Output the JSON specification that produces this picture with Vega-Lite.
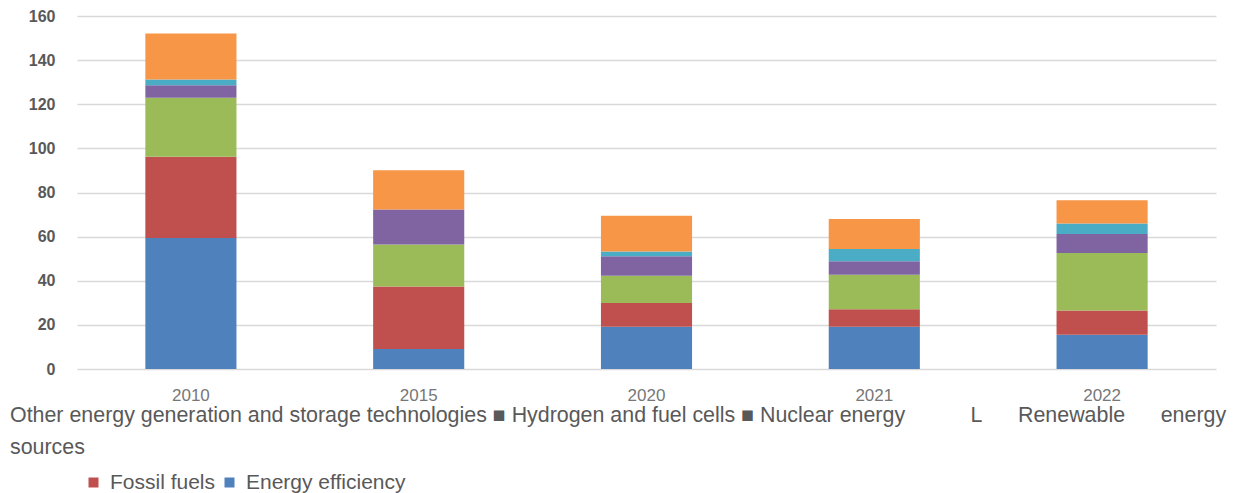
{
  "$schema": "https://vega.github.io/schema/vega-lite/v6.json",
  "autosize": {"type": "none"},
  "padding": {"left": 77, "top": 16, "right": 21, "bottom": 124},
  "width": 1139,
  "height": 353,
  "background": "white",
  "title": {
    "text": [
      "Other energy generation and storage technologies ■ Hydrogen and fuel cells ■ Nuclear energy\u00a0\u00a0\u00a0\u00a0\u00a0\u00a0\u00a0\u00a0\u00a0\u00a0\u00a0L\u00a0\u00a0\u00a0\u00a0\u00a0\u00a0Renewable\u00a0\u00a0\u00a0\u00a0\u00a0\u00a0energy",
      "sources"
    ],
    "orient": "bottom",
    "anchor": "start",
    "frame": "group",
    "align": "left",
    "dx": -67,
    "offset": -88,
    "font": "Liberation Sans",
    "fontSize": 21.4,
    "fontWeight": "normal",
    "color": "#595959",
    "lineHeight": 32
  },
  "data": {
    "values": [
      {"year": "2010", "source": "Energy efficiency", "value": 59.4},
      {"year": "2010", "source": "Fossil fuels", "value": 36.8},
      {"year": "2010", "source": "Renewable energy sources", "value": 26.8},
      {"year": "2010", "source": "Nuclear energy", "value": 5.6},
      {"year": "2010", "source": "Hydrogen and fuel cells", "value": 2.6},
      {"year": "2010", "source": "Other energy generation and storage technologies", "value": 20.9},
      {"year": "2015", "source": "Energy efficiency", "value": 9.1},
      {"year": "2015", "source": "Fossil fuels", "value": 28.3},
      {"year": "2015", "source": "Renewable energy sources", "value": 19.0},
      {"year": "2015", "source": "Nuclear energy", "value": 15.9},
      {"year": "2015", "source": "Hydrogen and fuel cells", "value": 0},
      {"year": "2015", "source": "Other energy generation and storage technologies", "value": 17.8},
      {"year": "2020", "source": "Energy efficiency", "value": 19.2},
      {"year": "2020", "source": "Fossil fuels", "value": 10.7},
      {"year": "2020", "source": "Renewable energy sources", "value": 12.4},
      {"year": "2020", "source": "Nuclear energy", "value": 8.8},
      {"year": "2020", "source": "Hydrogen and fuel cells", "value": 2.2},
      {"year": "2020", "source": "Other energy generation and storage technologies", "value": 16.2},
      {"year": "2021", "source": "Energy efficiency", "value": 19.2},
      {"year": "2021", "source": "Fossil fuels", "value": 7.9},
      {"year": "2021", "source": "Renewable energy sources", "value": 15.6},
      {"year": "2021", "source": "Nuclear energy", "value": 6.1},
      {"year": "2021", "source": "Hydrogen and fuel cells", "value": 5.6},
      {"year": "2021", "source": "Other energy generation and storage technologies", "value": 13.6},
      {"year": "2022", "source": "Energy efficiency", "value": 15.5},
      {"year": "2022", "source": "Fossil fuels", "value": 11.0},
      {"year": "2022", "source": "Renewable energy sources", "value": 26.1},
      {"year": "2022", "source": "Nuclear energy", "value": 8.6},
      {"year": "2022", "source": "Hydrogen and fuel cells", "value": 4.7},
      {"year": "2022", "source": "Other energy generation and storage technologies", "value": 10.6}
    ]
  },
  "transform": [
    {"calculate": "indexof(['Energy efficiency', 'Fossil fuels', 'Renewable energy sources', 'Nuclear energy', 'Hydrogen and fuel cells', 'Other energy generation and storage technologies'], datum.source)", "as": "stackOrder"}
  ],
  "mark": {"type": "bar"},
  "encoding": {
    "x": {
      "field": "year",
      "type": "nominal",
      "scale": {"paddingInner": 0.6, "paddingOuter": 0.3},
      "axis": {
        "title": null,
        "labelAngle": 0,
        "ticks": false,
        "domain": false,
        "labelPadding": 18,
        "labelFont": "Liberation Sans",
        "labelFontSize": 17,
        "labelColor": "#777777"
      }
    },
    "y": {
      "field": "value",
      "type": "quantitative",
      "stack": "zero",
      "scale": {"domain": [0, 160], "nice": false},
      "axis": {
        "title": null,
        "values": [0, 20, 40, 60, 80, 100, 120, 140, 160],
        "ticks": false,
        "domain": false,
        "labelPadding": 22,
        "labelFont": "Liberation Sans",
        "labelFontSize": 16,
        "labelFontWeight": "bold",
        "labelColor": "#595959",
        "gridColor": "#d9d9d9",
        "gridWidth": 1.5
      }
    },
    "order": {"field": "stackOrder", "type": "quantitative", "sort": "ascending"},
    "color": {
      "field": "source",
      "type": "nominal",
      "scale": {
        "domain": ["Energy efficiency", "Fossil fuels", "Renewable energy sources", "Nuclear energy", "Hydrogen and fuel cells", "Other energy generation and storage technologies"],
        "range": ["#4F81BD", "#C0504D", "#9BBB59", "#8064A2", "#4BACC6", "#F79646"]
      },
      "legend": {
        "title": null,
        "orient": "none",
        "legendX": 6,
        "legendY": 456,
        "direction": "horizontal",
        "values": ["Fossil fuels", "Energy efficiency"],
        "symbolType": "square",
        "symbolSize": 100,
        "symbolStrokeWidth": 0,
        "labelFont": "Liberation Sans",
        "labelFontSize": 21,
        "labelColor": "#595959",
        "labelOffset": 6,
        "columnPadding": 3,
        "gridAlign": "none",
        "labelLimit": 400
      }
    }
  },
  "config": {"view": {"stroke": null}}
}
